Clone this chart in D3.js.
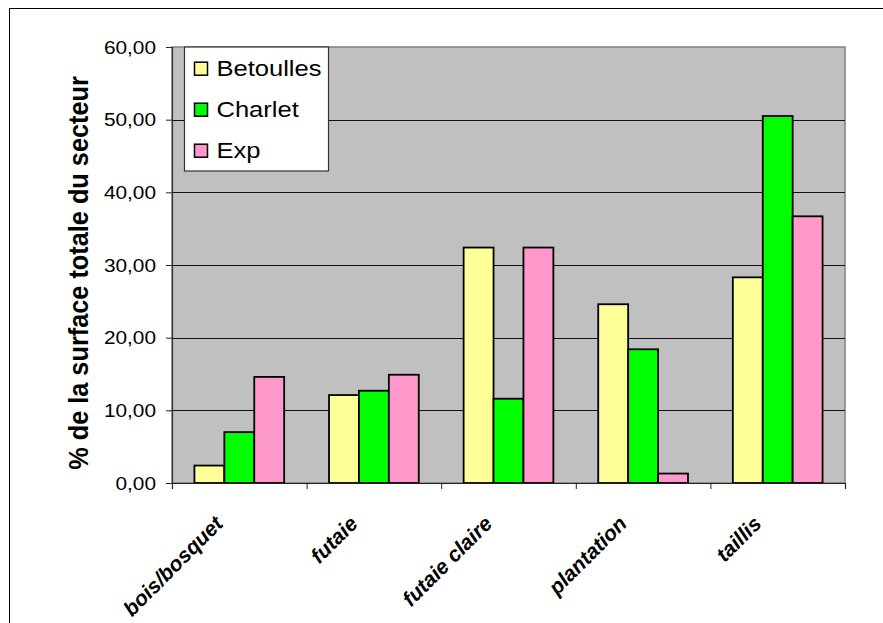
<!DOCTYPE html>
<html>
<head>
<meta charset="utf-8">
<script src="https://cdn.jsdelivr.net/npm/d3@7"></script>
<style>
  html, body { margin: 0; padding: 0; background: #fff; }
  svg { display: block; }
  text { font-family: "Liberation Sans", Arial, sans-serif; fill: #000; }
</style>
</head>
<body>
<svg id="chart" width="883" height="623"></svg>
<script>
// Land-cover share per sector (% of the sector's total surface)
const categories = ["bois/bosquet", "futaie", "futaie claire", "plantation", "taillis"];
const seriesNames = ["Betoulles", "Charlet", "Exp"];
const betoulles = [2.4, 12.1, 32.4, 24.6, 28.3];
const charlet   = [7.0, 12.7, 11.6, 18.4, 50.5];
const exp       = [14.6, 14.9, 32.4, 1.3, 36.7];
const seriesColors = ["#FFFF99", "#00FF00", "#FF99CC"];
const yTicks = [0, 10, 20, 30, 40, 50, 60];
const yTitle = "% de la surface totale du secteur";

const seriesValues = [betoulles, charlet, exp];
const rows = categories.map((c, i) => ({
  cat: c,
  vals: seriesNames.map((s, j) => ({ key: s, value: seriesValues[j][i], color: seriesColors[j] }))
}));

const svg = d3.select("#chart");
const stretch = 1.12;               // text is drawn slightly wide
const fmt = v => d3.format(".2f")(v).replace(".", ",");

// outer chart frame
svg.append("rect")
  .attr("x", 9.5).attr("y", 8.5).attr("width", 880).attr("height", 700)
  .attr("fill", "none").attr("stroke", "#000").attr("stroke-width", 1);

const plot = { left: 172, right: 845, top: 47, bottom: 483 };

const x = d3.scaleBand().domain(categories).range([plot.left, plot.right]).padding(0);
const xInner = d3.scaleBand().domain(seriesNames)
  .range([x.bandwidth() / 6, x.bandwidth() * 5 / 6]).padding(0);
const y = d3.scaleLinear().domain([0, 60]).range([plot.bottom, plot.top]);

// plot background
svg.append("rect")
  .attr("x", plot.left).attr("y", plot.top)
  .attr("width", plot.right - plot.left).attr("height", plot.bottom - plot.top)
  .attr("fill", "#C0C0C0").attr("stroke", "#808080").attr("stroke-width", 1.5);

// horizontal gridlines
svg.append("g").selectAll("line")
  .data(yTicks.filter(t => t > 0 && t < 60))
  .join("line")
  .attr("x1", plot.left).attr("x2", plot.right)
  .attr("y1", d => Math.round(y(d)) + 0.5).attr("y2", d => Math.round(y(d)) + 0.5)
  .attr("stroke", "#111").attr("stroke-width", 1);

// bars
const groups = svg.append("g").selectAll("g")
  .data(rows).join("g")
  .attr("transform", d => `translate(${x(d.cat)},0)`);
groups.selectAll("rect")
  .data(d => d.vals).join("rect")
  .attr("x", d => xInner(d.key))
  .attr("y", d => y(d.value))
  .attr("width", xInner.bandwidth())
  .attr("height", d => y(0) - y(d.value))
  .attr("fill", d => d.color)
  .attr("stroke", "#000").attr("stroke-width", 1.8);

// y axis
const yAxis = svg.append("g").attr("transform", `translate(${plot.left},0)`)
  .call(d3.axisLeft(y).tickValues(yTicks).tickSize(6).tickFormat(""));
yAxis.select(".domain").attr("stroke", "#333").attr("stroke-width", 1.2);
yAxis.selectAll(".tick line").attr("stroke", "#222");
svg.append("g").selectAll("text")
  .data(yTicks).join("text")
  .attr("transform", d => `translate(156,${y(d) + 6.5}) scale(${stretch},1)`)
  .attr("text-anchor", "end")
  .style("font-size", "18.6px")
  .text(fmt);

// x axis
const xAxis = svg.append("g").attr("transform", `translate(0,${plot.bottom})`)
  .call(d3.axisBottom(d3.scaleLinear().domain([0, categories.length]).range([plot.left, plot.right]))
    .tickValues(d3.range(categories.length + 1)).tickSize(6).tickFormat(""));
xAxis.select(".domain").attr("stroke", "#222").attr("stroke-width", 1.2);
xAxis.selectAll(".tick line").attr("stroke", "#222");

// category labels
svg.append("g").selectAll("text")
  .data(categories).join("text")
  .attr("transform", d => `translate(${x(d) + x.bandwidth() / 2 - 15},${plot.bottom + 42}) rotate(-45)`)
  .attr("text-anchor", "end")
  .style("font-size", "21px").style("font-weight", "bold").style("font-style", "italic")
  .text(d => d);

// y axis title
svg.append("text")
  .attr("transform", `translate(88,273) scale(${stretch},1) rotate(-90)`)
  .attr("text-anchor", "middle")
  .style("font-size", "25.3px").style("font-weight", "bold")
  .text(yTitle);

// legend
const legend = svg.append("g");
legend.append("rect")
  .attr("x", 184.5).attr("y", 47).attr("width", 144).attr("height", 124)
  .attr("fill", "#fff").attr("stroke", "#333").attr("stroke-width", 1.2);
const items = legend.selectAll("g.item")
  .data(seriesNames.map((s, j) => ({ name: s, color: seriesColors[j] })))
  .join("g").attr("class", "item")
  .attr("transform", (d, i) => `translate(0,${75.7 + i * 41})`);
items.append("rect")
  .attr("x", 194.5).attr("y", -13.5).attr("width", 13).attr("height", 13)
  .attr("fill", d => d.color).attr("stroke", "#000").attr("stroke-width", 1.5);
items.append("text")
  .attr("transform", `translate(216.5,0) scale(${stretch},1)`)
  .style("font-size", "22.8px")
  .text(d => d.name);
</script>
</body>
</html>
